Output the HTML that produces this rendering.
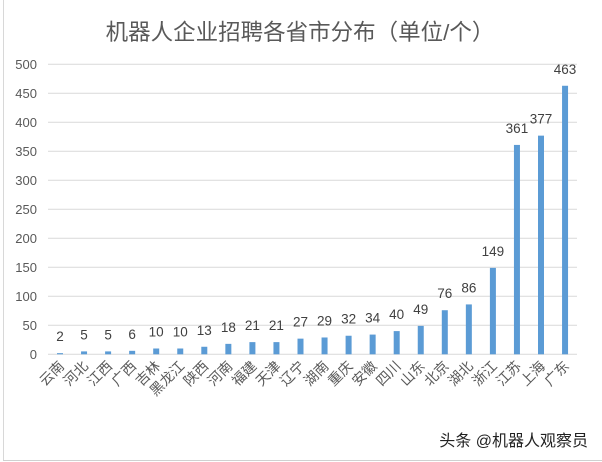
<!DOCTYPE html>
<html><head><meta charset="utf-8"><style>
html,body{margin:0;padding:0;background:#fff;}
svg{display:block;}
text{font-family:"Liberation Sans","Noto Sans CJK SC",sans-serif;}
</style></head><body>
<svg width="602" height="462" viewBox="0 0 602 462" xmlns="http://www.w3.org/2000/svg">
<rect x="0" y="0" width="602" height="462" fill="#fff"/>
<line x1="3.5" y1="0" x2="3.5" y2="460" stroke="#d8d8d8"/>
<line x1="3" y1="460.5" x2="602" y2="460.5" stroke="#d0d0d0"/>
<text x="300" y="40" font-size="22.5" fill="#595959" text-anchor="middle">机器人企业招聘各省市分布（单位/个）</text>
<g id="grid" stroke="#d9d9d9" stroke-width="1"></g>
<g id="ylab" font-size="13" fill="#595959" text-anchor="end"></g>
<g id="bars" fill="#5b9bd5"></g>
<g id="vals" font-size="13.5" fill="#404040" text-anchor="middle"></g>
<g id="cats" font-size="14" fill="#595959" text-anchor="end"></g>
<text x="588" y="446" font-size="16" fill="#222" text-anchor="end">头条 @机器人观察员</text>
<script>
var ns="http://www.w3.org/2000/svg";
function el(p,t,a,txt){var e=document.createElementNS(ns,t);for(var k in a)e.setAttribute(k,a[k]);if(txt!==undefined)e.textContent=txt;document.getElementById(p).appendChild(e);}
var y0=354.3,s=0.58;
for(var v=0;v<=500;v+=50){var y=y0-v*s;el("grid","line",{x1:48,x2:577,y1:y,y2:y});el("ylab","text",{x:37,y:y+4.5},v);}
var c=["云南","河北","江西","广西","吉林","黑龙江","陕西","河南","福建","天津","辽宁","湖南","重庆","安徽","四川","山东","北京","湖北","浙江","江苏","上海","广东"];
var d=[2,5,5,6,10,10,13,18,21,21,27,29,32,34,40,49,76,86,149,361,377,463];
for(var i=0;i<22;i++){var cx=60+i*24.05,h=d[i]*s;
el("bars","rect",{x:cx-3,y:y0-h,width:6,height:h});
el("vals","text",{x:cx,y:y0-h-12},d[i]);
el("cats","text",{x:cx+5,y:367,transform:"rotate(-45 "+(cx+5)+" 367)"},c[i]);}
</script>
</svg>
</body></html>
